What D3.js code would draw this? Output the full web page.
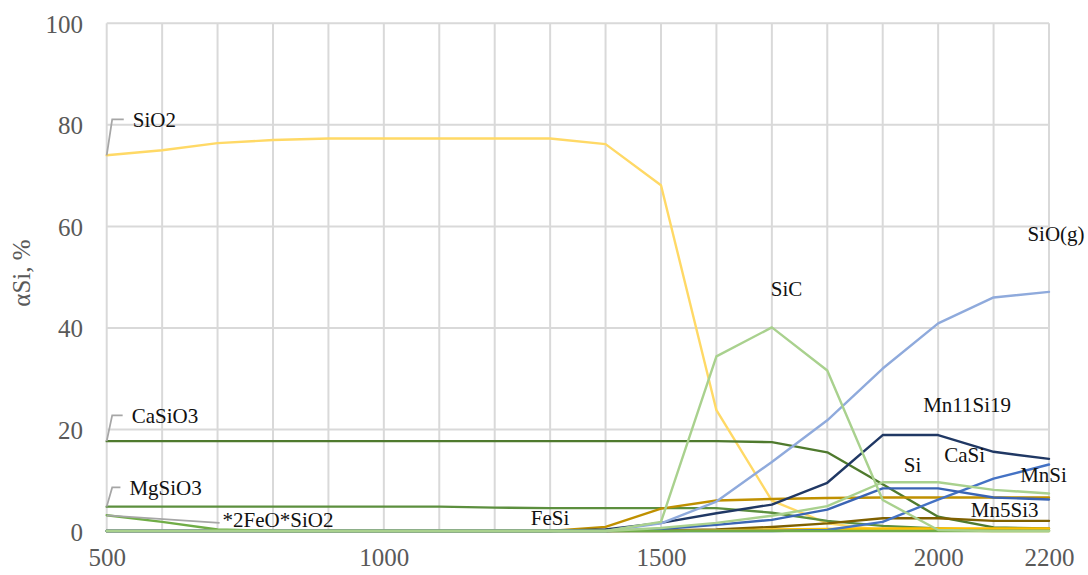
<!DOCTYPE html>
<html>
<head>
<meta charset="utf-8">
<script src="https://cdn.jsdelivr.net/npm/d3@7"></script>
<style>
  html, body { margin: 0; padding: 0; background: #ffffff; }
  svg { display: block; }
</style>
</head>
<body>
<svg id="chart" width="1088" height="575"></svg>
<script>
// Temperatures (x) shared by every series
const temperatures = [500, 600, 700, 800, 900, 1000, 1100, 1200, 1300, 1400, 1500, 1600, 1700, 1800, 1900, 2000, 2100, 2200];

// Share of silicon in each phase, %
const sio2      = [74.0, 75.0, 76.4, 77.0, 77.3, 77.3, 77.3, 77.3, 77.3, 76.2, 68.1, 23.8, 6.0, 1.5, 0.2, 0.1, 0, 0];
const casio3    = [17.7, 17.7, 17.7, 17.7, 17.7, 17.7, 17.7, 17.7, 17.7, 17.7, 17.7, 17.7, 17.5, 15.5, 9.2, 2.8, 0.7, 0.5];
const mgsio3    = [4.8, 4.8, 4.8, 4.8, 4.8, 4.8, 4.8, 4.6, 4.5, 4.5, 4.5, 4.5, 3.6, 2.0, 1.0, 0.5, 0.2, 0.1];
const fe2sio4   = [3.1, 1.8, 0.3, 0, 0, 0, 0, 0, 0, 0, 0, 0, 0, 0, 0, 0, 0, 0];
const fesi      = [0, 0, 0, 0, 0, 0, 0, 0, 0, 0.8, 4.4, 6.0, 6.3, 6.5, 6.6, 6.6, 6.6, 6.6];
const mn5si3    = [0, 0, 0, 0, 0, 0, 0, 0, 0, 0, 0.1, 0.3, 0.8, 1.5, 2.5, 2.5, 2.0, 2.0];
const minorGold = [0, 0, 0, 0, 0, 0, 0, 0, 0, 0, 0, 0.1, 0.3, 0.4, 0.5, 0.5, 0.5, 0.5];
const mnsi      = [0, 0, 0, 0, 0, 0, 0, 0, 0, 0, 0, 0, 0, 0.2, 1.8, 6.2, 10.3, 13.1];
const casi      = [0, 0, 0, 0, 0, 0, 0, 0, 0, 0, 0.4, 1.2, 2.2, 4.2, 8.4, 8.4, 6.6, 6.2];
const mn11si19  = [0, 0, 0, 0, 0, 0, 0, 0, 0, 0.3, 1.6, 3.5, 5.2, 9.5, 18.9, 18.9, 15.6, 14.2];
const siog      = [0, 0, 0, 0, 0, 0, 0, 0, 0, 0, 1.5, 5.8, 13.6, 21.8, 32.0, 40.9, 46.0, 47.1];
const si        = [0, 0, 0, 0, 0, 0, 0, 0, 0, 0, 0.6, 1.6, 3.0, 4.9, 9.6, 9.6, 8.1, 7.4];
const sic       = [0, 0, 0, 0, 0, 0, 0, 0, 0, 0, 1.8, 34.4, 40.1, 31.6, 6.1, 0.2, 0, 0];

// Axis ticks
const xTickLabels = [500, 1000, 1500, 2000, 2200];
const xGridValues = d3.range(500, 2201, 100);
const yTickValues = [0, 20, 40, 60, 80, 100];

// Series in drawing order (later ones on top)
const series = [
  { name: "SiO2",        values: sio2,      color: "#FFD966" },
  { name: "CaSiO3",      values: casio3,    color: "#4F7A2E" },
  { name: "MgSiO3",      values: mgsio3,    color: "#5C8F3E" },
  { name: "FeSi",        values: fesi,      color: "#BF9000" },
  { name: "Mn5Si3",      values: mn5si3,    color: "#7F6000" },
  { name: "",            values: minorGold, color: "#FFC000" },
  { name: "MnSi",        values: mnsi,      color: "#4472C4" },
  { name: "CaSi",        values: casi,      color: "#3A64B4" },
  { name: "Mn11Si19",    values: mn11si19,  color: "#203864" },
  { name: "SiO(g)",      values: siog,      color: "#8FAADC" },
  { name: "*2FeO*SiO2",  values: fe2sio4,   color: "#70AD47" },
  { name: "Si",          values: si,        color: "#A9D18E" },
  { name: "SiC",         values: sic,       color: "#A9D18E" }
];

// Label anchors in data coordinates (temperature, %); leader = line back to the 500 point
const labels = [
  { text: "SiO2",       t: 547,  v: 79.6, leader: "elbow", from: sio2 },
  { text: "CaSiO3",     t: 545,  v: 21.3, leader: "elbow", from: casio3 },
  { text: "MgSiO3",     t: 541,  v: 7.1,  leader: "elbow", from: mgsio3 },
  { text: "*2FeO*SiO2", t: 709,  v: 0.8,  leader: "straight", from: fe2sio4 },
  { text: "FeSi",       t: 1265, v: 1.2 },
  { text: "SiC",        t: 1698, v: 46.3 },
  { text: "SiO(g)",     t: 2161, v: 57.1 },
  { text: "Mn11Si19",   t: 1973, v: 23.5 },
  { text: "Si",         t: 1938, v: 11.7 },
  { text: "CaSi",       t: 2011, v: 13.5 },
  { text: "MnSi",       t: 2148, v: 9.7 },
  { text: "Mn5Si3",     t: 2059, v: 2.8 }
];

const svg = d3.select("#chart");
const plot = { left: 106.7, right: 1049, top: 23.3, bottom: 531 };

const x = d3.scaleLinear().domain([500, 2200]).range([plot.left, plot.right]);
const y = d3.scaleLinear().domain([0, 100]).range([plot.bottom, plot.top]);

const serif = "'Liberation Serif', 'Times New Roman', serif";
const axisColor = "#595959";

// Grid
const grid = svg.append("g").attr("class", "grid");
grid.selectAll("line.v").data(xGridValues).join("line")
  .attr("class", "v")
  .attr("x1", d => x(d)).attr("x2", d => x(d))
  .attr("y1", plot.top).attr("y2", plot.bottom)
  .attr("stroke", "#d9d9d9").attr("stroke-width", 2);
grid.selectAll("line.h").data(yTickValues).join("line")
  .attr("class", "h")
  .attr("x1", plot.left).attr("x2", plot.right)
  .attr("y1", d => y(d)).attr("y2", d => y(d))
  .attr("stroke", "#d9d9d9").attr("stroke-width", 2);

// Axes (labels only, lines hidden)
const yAxis = d3.axisLeft(y).tickValues(yTickValues).tickSize(0).tickPadding(0);
const gy = svg.append("g").attr("transform", `translate(83,0)`).call(yAxis);
gy.select(".domain").remove();
gy.selectAll("text")
  .attr("font-family", serif).attr("font-size", 25).attr("fill", axisColor)
  .attr("dy", null).attr("dominant-baseline", null)
  .attr("y", 9).attr("text-anchor", "end");

const xAxis = d3.axisBottom(x).tickValues(xTickLabels).tickSize(0).tickPadding(0).tickFormat(d3.format("d"));
const gx = svg.append("g").attr("transform", `translate(0,${plot.bottom})`).call(xAxis);
gx.select(".domain").remove();
gx.selectAll("text")
  .attr("font-family", serif).attr("font-size", 25).attr("fill", axisColor)
  .attr("dy", null).attr("y", 35);

// Axis title
svg.append("text")
  .attr("transform", "translate(30,273) rotate(-90)")
  .attr("text-anchor", "middle")
  .attr("font-family", serif).attr("font-size", 25).attr("fill", axisColor)
  .text("αSi, %");

// Lines
const line = d3.line()
  .x((d, i) => x(temperatures[i]))
  .y(d => y(d));

svg.append("g").attr("class", "series")
  .selectAll("path").data(series).join("path")
  .attr("d", d => line(d.values))
  .attr("fill", "none")
  .attr("stroke", d => d.color)
  .attr("stroke-width", 2.4)
  .attr("stroke-linejoin", "round")
  .attr("stroke-linecap", "round");

// Leader lines from the first point to its label
const leaders = svg.append("g").attr("class", "leaders");
labels.filter(l => l.leader).forEach(l => {
  const px = x(temperatures[0]), py = y(l.from[0]);
  const lx = x(l.t), ly = y(l.v) - 7.5;
  let pts;
  if (l.leader === "elbow") {
    pts = [[px, py], [px + 5.5, ly], [lx - 9, ly]];
  } else {
    pts = [[px, py], [lx - 3, ly + 3.5]];
  }
  leaders.append("path")
    .attr("d", d3.line()(pts))
    .attr("fill", "none")
    .attr("stroke", "#a6a6a6")
    .attr("stroke-width", 1.75);
});

// Data labels
svg.append("g").attr("class", "labels")
  .selectAll("text").data(labels).join("text")
  .attr("x", d => x(d.t))
  .attr("y", d => y(d.v))
  .attr("font-family", serif)
  .attr("font-size", 21)
  .attr("fill", "#111111")
  .text(d => d.text);
</script>
</body>
</html>
